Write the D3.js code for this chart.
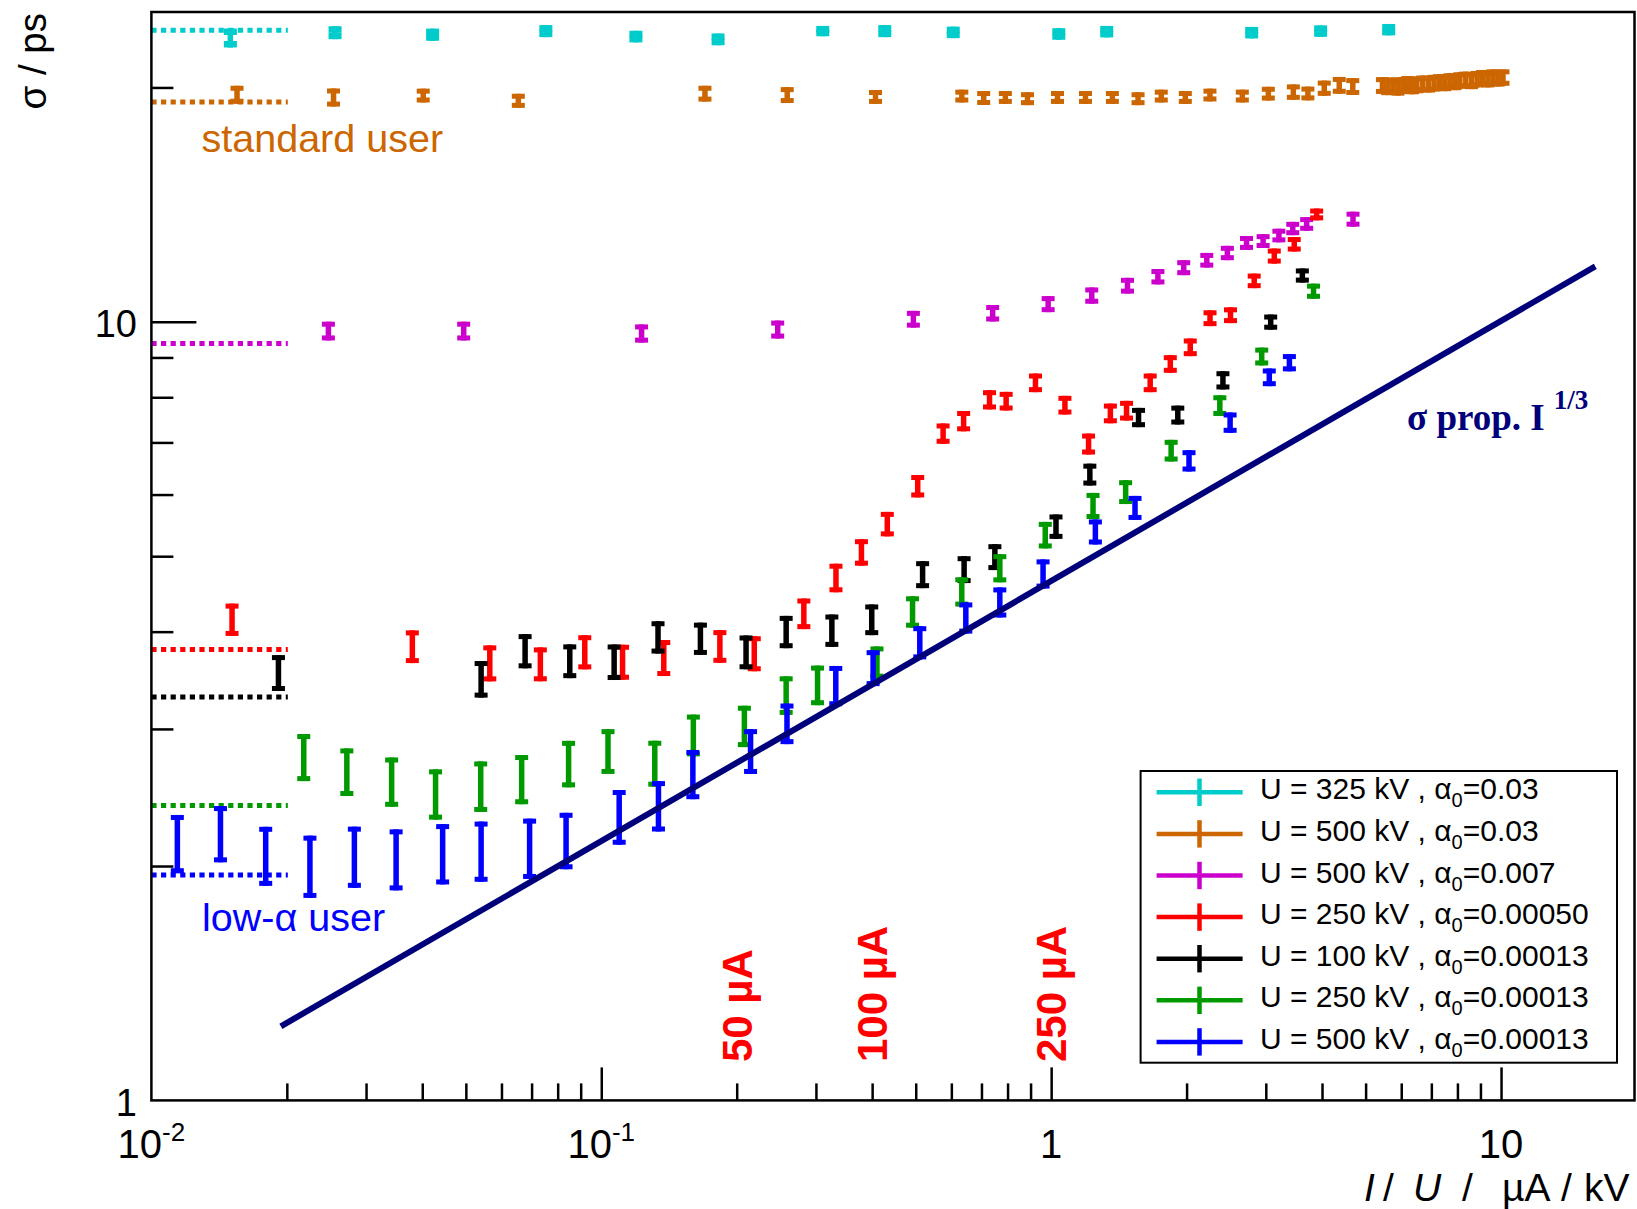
<!DOCTYPE html>
<html>
<head>
<meta charset="utf-8">
<script src="https://cdn.jsdelivr.net/npm/d3@7"></script>
<style>
  body { margin: 0; background: #fff; }
  svg { display: block; }
  text { font-family: "Liberation Sans", Arial, Helvetica, sans-serif; }
</style>
</head>
<body>
<svg id="chart" width="1637" height="1209"></svg>
<script>
// ---- Bunch length sigma (ps) versus bunch charge I/U (uA/kV) ----

// U = 325 kV, alpha0 = 0.03
const cyanX = [0.01498, 0.0256, 0.04218, 0.0753, 0.1194, 0.1818, 0.3107, 0.4268, 0.6058, 1.040, 1.329, 2.791, 3.972, 5.627];
const cyanY = [23.16, 23.52, 23.38, 23.63, 23.25, 23.06, 23.63, 23.63, 23.54, 23.43, 23.59, 23.52, 23.63, 23.73];
const cyanE = [0.65, 0.45, 0.42, 0.42, 0.40, 0.40, 0.36, 0.42, 0.40, 0.40, 0.40, 0.40, 0.40, 0.40];

// U = 500 kV, alpha0 = 0.03
const orangeX = [0.0155, 0.0254, 0.0402, 0.0654, 0.170, 0.259, 0.407, 0.633, 0.708, 0.791, 0.886, 1.033, 1.192, 1.368, 1.560, 1.757, 1.987, 2.254, 2.660, 3.039, 3.454, 3.721, 4.046, 4.369, 4.682,
  5.45, 5.6, 5.75, 5.9, 6.05, 6.2, 6.35, 6.5, 6.7, 6.9, 7.1, 7.3, 7.5, 7.7, 7.9, 8.1, 8.35, 8.6, 8.85, 9.1, 9.35, 9.6, 9.85, 10.1];
const orangeY = [19.58, 19.42, 19.53, 19.23, 19.64, 19.56, 19.45, 19.50, 19.39, 19.42, 19.35, 19.42, 19.42, 19.42, 19.35, 19.50, 19.42, 19.56, 19.50, 19.64, 19.73, 19.65, 19.96, 20.13, 20.06,
  20.12, 20.05, 20.10, 20.02, 20.12, 20.18, 20.10, 20.16, 20.22, 20.20, 20.26, 20.30, 20.28, 20.36, 20.34, 20.42, 20.46, 20.40, 20.50, 20.56, 20.50, 20.60, 20.55, 20.60];
const orangeE = [0.52, 0.52, 0.40, 0.40, 0.46, 0.46, 0.40, 0.37, 0.40, 0.37, 0.37, 0.37, 0.37, 0.37, 0.37, 0.37, 0.37, 0.37, 0.37, 0.40, 0.45, 0.40, 0.45, 0.50, 0.50,
  0.5, 0.5, 0.5, 0.5, 0.5, 0.5, 0.5, 0.5, 0.5, 0.5, 0.5, 0.5, 0.5, 0.5, 0.5, 0.5, 0.5, 0.5, 0.5, 0.5, 0.5, 0.5, 0.5, 0.5];

// U = 500 kV, alpha0 = 0.007
const magentaX = [0.02474, 0.04945, 0.1229, 0.2467, 0.4940, 0.7413, 0.9847, 1.231, 1.478, 1.727, 1.971, 2.218, 2.464, 2.718, 2.959, 3.208, 3.444, 3.698, 4.688];
const magentaY = [9.734, 9.734, 9.663, 9.777, 10.08, 10.26, 10.54, 10.81, 11.13, 11.43, 11.74, 12.00, 12.26, 12.63, 12.70, 12.91, 13.18, 13.36, 13.55];
const magentaE = [0.27, 0.27, 0.26, 0.26, 0.25, 0.25, 0.25, 0.26, 0.26, 0.26, 0.26, 0.26, 0.26, 0.26, 0.26, 0.26, 0.26, 0.27, 0.30];

// U = 250 kV, alpha0 = 0.00050
const redX = [0.01511, 0.03802, 0.05652, 0.07321, 0.0919, 0.1115, 0.1377, 0.1835, 0.2188, 0.2820, 0.3324, 0.3787, 0.4323, 0.5051, 0.5752, 0.6389, 0.7294, 0.7942, 0.9228, 1.073, 1.211, 1.354, 1.471, 1.660, 1.840, 2.038, 2.255, 2.504, 2.827, 3.133, 3.470, 3.892];
const redY = [4.148, 3.830, 3.647, 3.636, 3.768, 3.659, 3.705, 3.833, 3.752, 4.221, 4.692, 5.060, 5.501, 6.153, 7.188, 7.458, 7.943, 7.911, 8.352, 7.818, 6.970, 7.630, 7.692, 8.352, 8.831, 9.277, 10.11, 10.20, 11.29, 12.15, 12.58, 13.74];
const redE = [0.198, 0.185, 0.194, 0.182, 0.19, 0.189, 0.197, 0.185, 0.194, 0.191, 0.198, 0.198, 0.199, 0.204, 0.216, 0.224, 0.226, 0.218, 0.23, 0.216, 0.216, 0.222, 0.224, 0.23, 0.23, 0.242, 0.236, 0.238, 0.243, 0.27, 0.27, 0.24];

// U = 100 kV, alpha0 = 0.00013
const blackX = [0.01916, 0.05406, 0.06771, 0.08511, 0.1068, 0.1337, 0.1661, 0.2098, 0.2576, 0.3255, 0.3992, 0.5179, 0.6405, 0.7497, 1.025, 1.219, 1.564, 1.912, 2.409, 3.076, 3.617];
const blackY = [3.544, 3.479, 3.780, 3.669, 3.659, 3.937, 3.921, 3.767, 4.000, 4.016, 4.147, 4.738, 4.809, 4.990, 5.460, 6.368, 7.538, 7.593, 8.414, 9.994, 11.47];
const blackE = [0.188, 0.188, 0.191, 0.183, 0.192, 0.188, 0.187, 0.188, 0.191, 0.192, 0.188, 0.189, 0.191, 0.191, 0.197, 0.206, 0.215, 0.212, 0.227, 0.224, 0.24];

// U = 250 kV, alpha0 = 0.00013
const greenX = [0.02181, 0.02719, 0.0342, 0.04282, 0.05395, 0.06653, 0.08459, 0.1035, 0.1315, 0.1602, 0.2080, 0.2576, 0.3025, 0.410, 0.4919, 0.6329, 0.7689, 0.9703, 1.239, 1.464, 1.848, 2.371, 2.938, 3.830];
const greenY = [2.763, 2.646, 2.570, 2.478, 2.536, 2.589, 2.710, 2.812, 2.713, 2.948, 3.028, 3.316, 3.418, 3.655, 4.244, 4.503, 4.829, 5.325, 5.805, 6.047, 6.835, 7.809, 9.028, 10.95];
const greenE = [0.192, 0.186, 0.187, 0.184, 0.189, 0.188, 0.186, 0.186, 0.184, 0.182, 0.185, 0.189, 0.2, 0.174, 0.197, 0.195, 0.201, 0.209, 0.224, 0.213, 0.219, 0.239, 0.238, 0.245];

// U = 500 kV, alpha0 = 0.00013
const blueX = [0.01142, 0.01424, 0.01795, 0.02251, 0.02826, 0.03499, 0.0444, 0.05406, 0.06929, 0.08351, 0.1096, 0.134, 0.1598, 0.2147, 0.2587, 0.3321, 0.402, 0.5105, 0.6461, 0.7689, 0.9594, 1.254, 1.536, 2.025, 2.499, 3.054, 3.385];
const blueY = [2.142, 2.205, 2.066, 2.004, 2.061, 2.045, 2.079, 2.095, 2.113, 2.161, 2.317, 2.393, 2.628, 2.812, 3.051, 3.411, 3.596, 3.875, 4.169, 4.365, 4.748, 5.375, 5.771, 6.632, 7.425, 8.489, 8.864];
const blueE = [0.184, 0.183, 0.18, 0.184, 0.186, 0.184, 0.185, 0.186, 0.188, 0.18, 0.187, 0.178, 0.191, 0.186, 0.183, 0.203, 0.191, 0.19, 0.192, 0.194, 0.205, 0.199, 0.205, 0.209, 0.223, 0.222, 0.226];

// Legend entries (same order as drawing order)
const seriesVoltage = ["325", "500", "500", "250", "100", "250", "500"];
const seriesAlpha = ["0.03", "0.03", "0.007", "0.00050", "0.00013", "0.00013", "0.00013"];
const seriesColor = ["#00cccc", "#cc6600", "#cc00cc", "#ff0000", "#000000", "#009900", "#0000ff"];

// Zero-current bunch lengths (dotted reference levels), same series order
const zeroCurrentSigma = [23.68, 19.16, 9.38, 3.795, 3.298, 2.392, 1.947];
const zeroCurrentRange = [0.01, 0.0201];

// sigma proportional to I^(1/3) guide line, end points
const scalingLine = [[0.0194, 1.245], [16.2, 11.78]];

// Beam current markers for the 250 kV series (I/U = 50/250, 100/250, 250/250)
const currentMarkX = [0.2, 0.4, 1.0];
const currentMarkText = ["50 \u00b5A", "100 \u00b5A", "250 \u00b5A"];
const currentMarkY = 1.12;

// Axis ticks
const xMajor = [0.1, 1, 10];
const xMinor = [0.02,0.03,0.04,0.05,0.06,0.07,0.08,0.09, 0.2,0.3,0.4,0.5,0.6,0.7,0.8,0.9, 2,3,4,5,6,7,8,9];
const yMajor = [10];
const yMinor = [2,3,4,5,6,7,8,9,20];
const xTickLabels = [{v: 0.01, base: "10", sup: "-2"}, {v: 0.1, base: "10", sup: "-1"}, {v: 1, base: "1", sup: ""}, {v: 10, base: "10", sup: ""}];
const yTickLabels = [{v: 1, t: "1"}, {v: 10, t: "10"}];

const svg = d3.select("#chart");
const x = d3.scaleLog().domain([0.01, 19.8]).range([151.4, 1634.5]);
const y = d3.scaleLog().domain([1, 25]).range([1100.4, 12]);

// marker cap thickness per series (short bars of the top series merge into blocks)
const capThickness = [6.5, 5, 5, 5, 5, 5, 5];

const series = [
  {x: cyanX, y: cyanY, e: cyanE},
  {x: orangeX, y: orangeY, e: orangeE},
  {x: magentaX, y: magentaY, e: magentaE},
  {x: redX, y: redY, e: redE},
  {x: blackX, y: blackY, e: blackE},
  {x: greenX, y: greenY, e: greenE},
  {x: blueX, y: blueY, e: blueE}
].map((s, i) => ({color: seriesColor[i], capH: capThickness[i], pts: s.x.map((xv, j) => ({x: xv, y: s.y[j], e: s.e[j]}))}));

// dotted zero-current levels
svg.append("g").selectAll("line").data(zeroCurrentSigma).join("line")
  .attr("x1", x(zeroCurrentRange[0])).attr("x2", x(zeroCurrentRange[1]))
  .attr("y1", d => y(d)).attr("y2", d => y(d))
  .attr("stroke", (d, i) => seriesColor[i])
  .attr("stroke-width", 5)
  .attr("stroke-dasharray", "5.2,4.4");

// error-bar markers: vertical bar with end caps
const barW = 5.5, capW = 13;
series.forEach(s => {
  const capH = s.capH;
  const g = svg.append("g").attr("fill", s.color);
  const pts = g.selectAll("g").data(s.pts).join("g");
  pts.append("rect")
    .attr("x", d => x(d.x) - barW / 2).attr("y", d => y(d.y + d.e))
    .attr("width", barW).attr("height", d => y(d.y - d.e) - y(d.y + d.e));
  pts.append("rect")
    .attr("x", d => x(d.x) - capW / 2).attr("y", d => y(d.y + d.e))
    .attr("width", capW).attr("height", capH);
  pts.append("rect")
    .attr("x", d => x(d.x) - capW / 2).attr("y", d => y(d.y - d.e) - capH)
    .attr("width", capW).attr("height", capH);
});

// scaling guide line
svg.append("path")
  .datum(scalingLine)
  .attr("d", d3.line().x(d => x(d[0])).y(d => y(d[1])))
  .attr("stroke", "#00007a").attr("stroke-width", 6).attr("fill", "none");

svg.append("text")
  .attr("x", 1407).attr("y", 430)
  .attr("fill", "#00007a")
  .style("font-family", "'Liberation Serif', 'Times New Roman', serif")
  .style("font-weight", "bold").style("font-size", "37px")
  .call(t => {
    t.append("tspan").text("\u03c3 prop. I");
    t.append("tspan").attr("dx", 9).attr("dy", -21).style("font-size", "27px").text("1/3");
  });

// beam current labels
svg.append("g").selectAll("text").data(currentMarkX).join("text")
  .attr("transform", d => `translate(${x(d)},${y(currentMarkY)}) rotate(-90)`)
  .attr("dy", "0.36em")
  .attr("fill", "#ff0000")
  .style("font-weight", "bold").style("font-size", "42px")
  .text((d, i) => currentMarkText[i]);

// region annotations
svg.append("text").attr("x", 201.5).attr("y", 152).attr("fill", "#cc6600")
  .style("font-size", "39.5px").text("standard user");
svg.append("text").attr("x", 202).attr("y", 931).attr("fill", "#0000ff")
  .style("font-size", "39.5px").text("low-\u03b1 user");

// frame
svg.append("rect")
  .attr("x", x(0.01)).attr("y", y(25))
  .attr("width", x(19.8) - x(0.01)).attr("height", y(1) - y(25))
  .attr("fill", "none").attr("stroke", "#000").attr("stroke-width", 2.5);

// axes: ticks pointing into the frame
function styleAxis(g) {
  g.select(".domain").remove();
  g.selectAll(".tick line").attr("stroke", "#000").attr("stroke-width", 2.5);
  g.selectAll(".tick text").remove();
}
svg.append("g").attr("transform", `translate(0,${y(1)})`)
  .call(d3.axisBottom(x).tickValues(xMinor).tickSize(-17).tickSizeOuter(0)).call(styleAxis);
svg.append("g").attr("transform", `translate(0,${y(1)})`)
  .call(d3.axisBottom(x).tickValues(xMajor).tickSize(-33).tickSizeOuter(0)).call(styleAxis);
svg.append("g").attr("transform", `translate(${x(0.01)},0)`)
  .call(d3.axisLeft(y).tickValues(yMinor).tickSize(-22).tickSizeOuter(0)).call(styleAxis);
svg.append("g").attr("transform", `translate(${x(0.01)},0)`)
  .call(d3.axisLeft(y).tickValues(yMajor).tickSize(-45).tickSizeOuter(0)).call(styleAxis);

// tick labels
svg.append("g").selectAll("text").data(xTickLabels).join("text")
  .attr("x", d => x(d.v)).attr("y", 1158)
  .attr("text-anchor", "middle")
  .style("font-size", "40px")
  .each(function(d) {
    const t = d3.select(this);
    t.append("tspan").text(d.base);
    if (d.sup) t.append("tspan").attr("dy", -17).style("font-size", "26px").text(d.sup);
  });
svg.append("g").selectAll("text").data(yTickLabels).join("text")
  .attr("x", 137).attr("y", d => y(d.v))
  .attr("dy", "0.4em")
  .attr("text-anchor", "end")
  .style("font-size", "38px")
  .text(d => d.t);

// axis titles
svg.append("text")
  .attr("transform", "translate(46,13) rotate(-90)")
  .attr("text-anchor", "end")
  .style("font-size", "38.5px")
  .text("\u03c3 / ps");

const xTitle = svg.append("text").attr("y", 1201).style("font-size", "39px");
xTitle.append("tspan").attr("x", 1364).style("font-style", "italic").text("I");
xTitle.append("tspan").attr("x", 1383).text("/");
xTitle.append("tspan").attr("x", 1413).style("font-style", "italic").text("U");
xTitle.append("tspan").attr("x", 1462).text("/");
xTitle.append("tspan").attr("x", 1502).text("\u00b5A");
xTitle.append("tspan").attr("x", 1561).text("/");
xTitle.append("tspan").attr("x", 1584).text("kV");

// legend
const legX0 = 1140.6, legY0 = 771, legX1 = 1617, legY1 = 1062.7;
const legend = svg.append("g");
legend.append("rect")
  .attr("x", legX0).attr("y", legY0).attr("width", legX1 - legX0).attr("height", legY1 - legY0)
  .attr("fill", "#fff").attr("stroke", "#000").attr("stroke-width", 2);
const rows = legend.selectAll("g.row").data(seriesColor).join("g").attr("class", "row")
  .attr("transform", (d, i) => `translate(0,${792.3 + i * 41.6})`);
rows.append("line").attr("x1", 1156.6).attr("x2", 1242.6).attr("y1", 0).attr("y2", 0)
  .attr("stroke", d => d).attr("stroke-width", 4.5);
rows.append("line").attr("x1", 1199.5).attr("x2", 1199.5).attr("y1", -13.7).attr("y2", 13.7)
  .attr("stroke", d => d).attr("stroke-width", 4.5);
rows.append("text").attr("x", 1260).attr("y", 7)
  .style("font-size", "30px")
  .each(function(d, i) {
    const t = d3.select(this);
    t.append("tspan").text(`U = ${seriesVoltage[i]} kV , \u03b1`);
    t.append("tspan").attr("dy", 8).style("font-size", "20px").text("0");
    t.append("tspan").attr("dy", -8).text(`=${seriesAlpha[i]}`);
  });
</script>
</body>
</html>
